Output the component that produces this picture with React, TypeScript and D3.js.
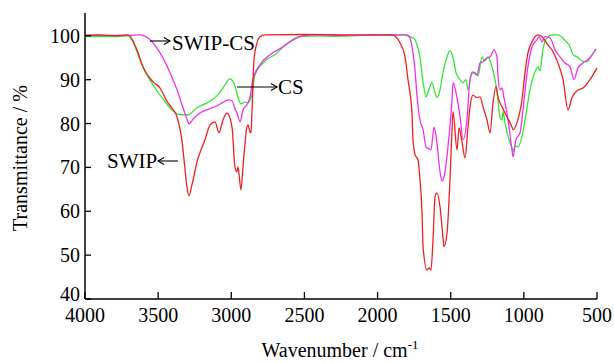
import React from 'react';
import * as d3 from 'd3';

type Pt = [number, number]; // [wavenumber, transmittance]

const xTicks = [4000, 3500, 3000, 2500, 2000, 1500, 1000, 500];
const yTicks = [40, 50, 60, 70, 80, 90, 100];

// SWIP (red)
const swip: Pt[] = [
  [4000, 100.1], [3900, 100.2], [3800, 100.0], [3706, 100.2], [3645, 96.8], [3604, 92.9],
  [3535, 89.5], [3487, 88.1], [3439, 85.0], [3405, 83.5], [3371, 81.5], [3337, 76.0],
  [3316, 69.5], [3303, 65.5], [3289, 63.6], [3269, 66.0], [3234, 71.3], [3180, 76.3],
  [3145, 79.7], [3111, 80.4], [3084, 77.9], [3057, 80.8], [3029, 82.4], [2995, 79.2],
  [2975, 70.1], [2961, 69.0], [2954, 70.1], [2934, 64.9], [2920, 70.1], [2893, 79.2],
  [2886, 79.7], [2872, 78.1], [2865, 77.9], [2858, 83.1], [2845, 94.5], [2824, 98.4],
  [2804, 99.8], [2770, 100.2], [2500, 100.3], [2200, 100.2], [1901, 100.2], [1847, 98.4],
  [1812, 95.2], [1792, 90.0], [1765, 82.4], [1758, 76.3], [1744, 72.9], [1724, 71.7],
  [1710, 67.2], [1696, 59.6], [1689, 51.9], [1662, 46.6], [1648, 47.1], [1635, 46.6],
  [1621, 53.5], [1607, 63.3], [1594, 64.2], [1573, 61.0], [1553, 54.1], [1546, 51.9],
  [1525, 55.1], [1505, 67.2], [1491, 78.6], [1484, 82.7], [1457, 74.0], [1443, 79.0],
  [1423, 75.8], [1402, 72.2], [1382, 79.2], [1368, 83.8], [1348, 86.5], [1320, 85.9],
  [1300, 86.1], [1279, 83.8], [1252, 80.8], [1231, 77.9], [1211, 84.7], [1190, 88.4],
  [1177, 86.1], [1149, 83.8], [1115, 81.5], [1081, 79.2], [1074, 78.6], [1047, 80.2],
  [1013, 85.4], [992, 91.6], [972, 96.1], [944, 98.6], [924, 99.8], [903, 100.2],
  [876, 99.8], [835, 97.9], [801, 96.4], [767, 93.8], [732, 90.0], [698, 83.1],
  [671, 85.9], [636, 87.5], [596, 88.1], [548, 90.0], [500, 92.7],
];

// CS (green)
const cs: Pt[] = [
  [4000, 99.9], [3800, 99.8], [3706, 100.0], [3672, 98.6], [3624, 94.5], [3576, 91.1],
  [3521, 88.1], [3467, 85.6], [3405, 83.1], [3351, 82.0], [3296, 82.0], [3234, 83.6],
  [3166, 84.7], [3098, 86.3], [3057, 88.1], [3009, 90.2], [2975, 88.6], [2954, 85.9],
  [2934, 84.5], [2906, 84.9], [2886, 84.7], [2858, 86.8], [2838, 91.1], [2783, 93.8],
  [2687, 96.1], [2612, 98.4], [2530, 99.8], [2400, 100.0], [2300, 99.9], [2100, 100.1],
  [1826, 100.2], [1778, 99.8], [1744, 99.1], [1730, 97.9], [1710, 95.0], [1689, 89.5],
  [1669, 86.1], [1648, 87.9], [1628, 89.3], [1607, 87.0], [1594, 85.9], [1573, 87.7],
  [1553, 91.6], [1525, 95.2], [1505, 96.6], [1484, 95.0], [1464, 91.6], [1436, 90.0],
  [1416, 89.3], [1395, 90.0], [1382, 87.7], [1354, 91.8], [1334, 91.6], [1313, 90.9],
  [1286, 95.2], [1266, 94.3], [1245, 95.2], [1218, 92.9], [1197, 90.0], [1177, 85.4],
  [1163, 81.3], [1149, 80.8], [1142, 82.7], [1129, 80.2], [1108, 77.0], [1081, 74.4],
  [1074, 73.5], [1061, 74.9], [1040, 74.7], [1013, 77.0], [992, 80.8], [958, 87.7],
  [924, 91.8], [903, 92.9], [890, 92.0], [869, 97.0], [842, 99.5], [808, 100.2],
  [767, 100.2], [718, 98.9], [684, 97.5], [664, 95.7], [636, 95.2], [602, 94.3],
  [568, 94.1], [534, 95.7], [507, 97.0],
];

// SWIP-CS (magenta)
const swipCs: Pt[] = [
  [4000, 100.1], [3700, 100.1], [3624, 100.2], [3556, 99.1], [3487, 96.1], [3419, 91.6],
  [3371, 87.7], [3337, 84.3], [3303, 81.0], [3289, 79.9], [3262, 81.0], [3214, 82.4],
  [3145, 83.4], [3098, 84.0], [3063, 84.7], [3022, 85.4], [2995, 85.2], [2975, 83.4],
  [2961, 82.4], [2940, 80.4], [2920, 83.1], [2893, 84.3], [2872, 86.1], [2852, 90.0],
  [2804, 93.4], [2735, 95.7], [2646, 97.5], [2599, 98.6], [2530, 99.8], [2462, 100.2],
  [2200, 100.1], [1799, 100.2], [1778, 99.5], [1758, 96.1], [1744, 92.2], [1730, 86.1],
  [1710, 80.8], [1689, 78.6], [1669, 74.7], [1648, 74.2], [1635, 74.0], [1614, 79.2],
  [1594, 75.6], [1573, 69.0], [1560, 66.9], [1539, 69.0], [1512, 77.0], [1491, 85.4],
  [1484, 89.3], [1457, 85.9], [1436, 81.5], [1416, 76.3], [1389, 80.8], [1368, 90.0],
  [1348, 91.6], [1320, 91.1], [1300, 93.8], [1279, 94.1], [1252, 95.0], [1231, 95.2],
  [1204, 96.8], [1184, 95.2], [1177, 91.1], [1163, 87.7], [1149, 88.1], [1136, 85.9],
  [1108, 80.8], [1081, 74.0], [1074, 72.4], [1054, 76.3], [1026, 77.9], [1006, 83.1],
  [978, 91.6], [944, 97.5], [910, 99.1], [896, 99.8], [876, 98.6], [855, 99.8],
  [821, 99.5], [787, 96.8], [753, 95.2], [718, 93.8], [684, 92.9], [657, 90.0],
  [630, 92.7], [596, 93.8], [548, 95.0], [507, 97.0],
];

const series = [
  { name: 'CS', color: '#33e633', data: cs },
  { name: 'SWIP-CS', color: '#ee33ee', data: swipCs },
  { name: 'SWIP', color: '#ee2222', data: swip },
];

const W = 614;
const H = 363;
const textStyle = { fontFamily: "'Liberation Serif', 'Times New Roman', Times, serif" };

export default function App() {
  const x = d3.scaleLinear().domain([4000, 500]).range([85, 597]);
  const y = d3.scaleLinear().domain([40, 105.2]).range([299, 13]);

  const line = d3.line<Pt>()
    .x((d) => x(d[0]))
    .y((d) => y(d[1]))
    .curve(d3.curveMonotoneX);

  const arrow = (x1: number, x2: number, yy: number, key: string) => {
    const dir = x2 > x1 ? 1 : -1;
    return (
      <g key={key} stroke="#000" strokeWidth={1.1} fill="none">
        <line x1={x1} y1={yy} x2={x2} y2={yy} />
        <path d={`M${x2 - dir * 6},${yy - 3.5} L${x2},${yy} L${x2 - dir * 6},${yy + 3.5}`} />
      </g>
    );
  };

  return (
    <svg width={W} height={H} style={{ position: 'absolute', left: 0, top: 0, background: '#fff' }}>
      {/* data */}
      {series.map((s) => (
        <path key={s.name} d={line(s.data) || ''} fill="none" stroke={s.color} strokeWidth={1.3} />
      ))}

      {/* axes */}
      <line x1={x(4000)} y1={y(105.2)} x2={x(4000)} y2={y(40)} stroke="#000" strokeWidth={1.5} />
      <line x1={x(4000)} y1={y(40)} x2={x(500)} y2={y(40)} stroke="#000" strokeWidth={1.5} />
      {xTicks.map((t) => (
        <g key={t}>
          <line x1={x(t)} x2={x(t)} y1={y(40)} y2={y(40) - 7} stroke="#000" strokeWidth={1.3} />
          <text x={x(t)} y={322} textAnchor="middle" fontSize={20} style={textStyle}>{t}</text>
        </g>
      ))}
      {yTicks.map((t) => (
        <g key={t}>
          <line x1={x(4000)} x2={x(4000) + 6} y1={y(t)} y2={y(t)} stroke="#000" strokeWidth={1.3} />
          <text x={80} y={y(t) + (t === 40 ? 2 : 7)} textAnchor="end" fontSize={20} style={textStyle}>{t}</text>
        </g>
      ))}

      {/* axis titles */}
      <text x={340} y={357} textAnchor="middle" fontSize={20} style={textStyle}>
        Wavenumber / cm<tspan dy={-8} fontSize={13}>-1</tspan>
      </text>
      <text transform="translate(27,158) rotate(-90)" textAnchor="middle" fontSize={20} style={textStyle}>
        Transmittance / %
      </text>

      {/* annotations */}
      {arrow(150, 170, 41, 'a1')}
      <text x={172} y={50} fontSize={21} style={textStyle}>SWIP-CS</text>
      {arrow(237, 277, 87, 'a2')}
      <text x={278} y={94} fontSize={21} style={textStyle}>CS</text>
      {arrow(178, 158, 161, 'a3')}
      <text x={107} y={168} fontSize={21} style={textStyle}>SWIP</text>
    </svg>
  );
}
